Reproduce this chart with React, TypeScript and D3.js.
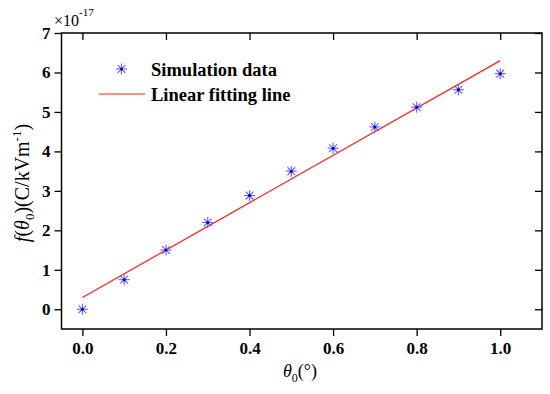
import React, { useEffect, useRef } from 'react';
import * as d3 from 'd3';

// simulation points (x in degrees, y in units of 1e-17)
const simX = [0.0, 0.1, 0.2, 0.3, 0.4, 0.5, 0.6, 0.7, 0.8, 0.9, 1.0];
const simY = [0.0, 0.75, 1.5, 2.2, 2.88, 3.5, 4.08, 4.62, 5.12, 5.56, 5.97];
// fitting line endpoints
const fitX = [0.0, 1.0];
const fitY = [0.3, 6.3];
const xTicks = [0.0, 0.2, 0.4, 0.6, 0.8, 1.0];
const yTicks = [0, 1, 2, 3, 4, 5, 6, 7];
const legendLabels = ['Simulation data', 'Linear fitting line'];

const App = () => {
  const svgRef = useRef<SVGSVGElement>(null);

  useEffect(() => {
    const svg = d3.select(svgRef.current);
    svg.selectAll('*').remove();

    const width = 550;
    const height = 394;
    const margin = { top: 33, right: 8, bottom: 65, left: 61.5 };
    const font = "'Liberation Serif', serif";

    const x = d3.scaleLinear().domain([-0.05, 1.1]).range([margin.left, width - margin.right]);
    const y = d3.scaleLinear().domain([-0.5, 7]).range([height - margin.bottom, margin.top]);

    svg.attr('width', width).attr('height', height);
    svg.append('rect').attr('width', width).attr('height', height).attr('fill', '#fff');

    const x0 = x.range()[0], x1 = x.range()[1];
    const y0 = y.range()[0], y1 = y.range()[1];

    // bottom axis: outward major + minor ticks
    const bottom = svg.append('g').attr('transform', `translate(0,${y0})`);
    bottom.call(d3.axisBottom(x).tickValues(d3.range(0, 1.11, 0.1)).tickSize(4).tickFormat(() => ''))
      .call(g => g.select('.domain').remove());
    bottom.call(d3.axisBottom(x).tickValues(xTicks).tickSize(7).tickPadding(6).tickFormat(d3.format('.1f')))
      .call(g => g.select('.domain').remove());

    // left axis
    const left = svg.append('g').attr('transform', `translate(${x0},0)`);
    left.call(d3.axisLeft(y).tickValues(d3.range(-0.5, 7.01, 0.5)).tickSize(4).tickFormat(() => ''))
      .call(g => g.select('.domain').remove());
    left.call(d3.axisLeft(y).tickValues(yTicks).tickSize(7).tickPadding(4).tickFormat(d3.format('d')))
      .call(g => g.select('.domain').remove());

    // top and right: inward major ticks
    svg.append('g').attr('transform', `translate(0,${y1})`)
      .call(d3.axisBottom(x).tickValues(xTicks).tickSize(7).tickFormat(() => ''))
      .call(g => g.select('.domain').remove());
    svg.append('g').attr('transform', `translate(${x1},0)`)
      .call(d3.axisLeft(y).tickValues(yTicks).tickSize(7).tickFormat(() => ''))
      .call(g => g.select('.domain').remove());

    svg.selectAll('.tick line').attr('stroke', '#000').attr('stroke-width', 1.3);
    svg.selectAll('.tick text')
      .attr('fill', '#000')
      .style('font-family', font)
      .style('font-weight', 'bold')
      .style('font-size', '17px');

    svg.append('rect')
      .attr('x', x0).attr('y', y1)
      .attr('width', x1 - x0).attr('height', y0 - y1)
      .attr('fill', 'none').attr('stroke', '#000').attr('stroke-width', 1.5);

    // fitting line
    const line = d3.line<number>().x((d, i) => x(fitX[i])).y(d => y(d));
    svg.append('path').attr('d', line(fitY)).attr('fill', 'none')
      .attr('stroke', '#ff2020').attr('stroke-width', 1.2);

    const star = (g: any, cx: number, cy: number) => {
      const r = 5.5;
      const s = g.append('g').attr('transform', `translate(${cx},${cy})`);
      [0, 45, 90, 135].forEach(a => {
        const rad = (a * Math.PI) / 180;
        s.append('line')
          .attr('x1', -r * Math.cos(rad)).attr('y1', -r * Math.sin(rad))
          .attr('x2', r * Math.cos(rad)).attr('y2', r * Math.sin(rad))
          .attr('stroke', '#6060ff').attr('stroke-width', 1.1);
      });
      s.append('circle').attr('r', 1.5).attr('fill', '#0000c0');
    };

    simX.forEach((d, i) => star(svg, x(d), y(simY[i])));

    // legend
    star(svg, 121.5, 69);
    svg.append('line').attr('x1', 99).attr('x2', 145).attr('y1', 94).attr('y2', 94)
      .attr('stroke', '#ff2020').attr('stroke-width', 1.2);
    legendLabels.forEach((t, i) => {
      svg.append('text').attr('x', 151).attr('y', 75.5 + i * 25).text(t)
        .style('font-family', font).style('font-weight', 'bold').style('font-size', '18.5px');
    });

    // exponent
    const ex = svg.append('text').attr('x', 54).attr('y', 26)
      .style('font-family', font).style('font-size', '16px');
    ex.append('tspan').text('×10');
    ex.append('tspan').attr('dy', -10).style('font-size', '11px').text('-17');

    // x label
    const xl = svg.append('text').attr('x', 300).attr('y', 377).attr('text-anchor', 'middle')
      .style('font-family', font).style('font-size', '18px');
    xl.append('tspan').style('font-style', 'italic').text('θ');
    xl.append('tspan').attr('dy', 5).style('font-size', '12px').text('0');
    xl.append('tspan').attr('dy', -5).text('(°)');

    // y label
    const yl = svg.append('text')
      .attr('transform', `translate(29,183) rotate(-90)`)
      .attr('text-anchor', 'middle')
      .style('font-family', font).style('font-size', '20px');
    yl.append('tspan').style('font-style', 'italic').text('f');
    yl.append('tspan').text('(');
    yl.append('tspan').style('font-style', 'italic').text('θ');
    yl.append('tspan').attr('dy', 5).style('font-size', '13px').text('0');
    yl.append('tspan').attr('dy', -5).text(')(C/kVm');
    yl.append('tspan').attr('dy', -8).style('font-size', '13px').text('-1');
    yl.append('tspan').attr('dy', 8).text(')');
  }, []);

  return (
    <div>
      <svg ref={svgRef} style={{ display: 'block', position: 'absolute', left: 0, top: 0 }}></svg>
    </div>
  );
};

export default App;
